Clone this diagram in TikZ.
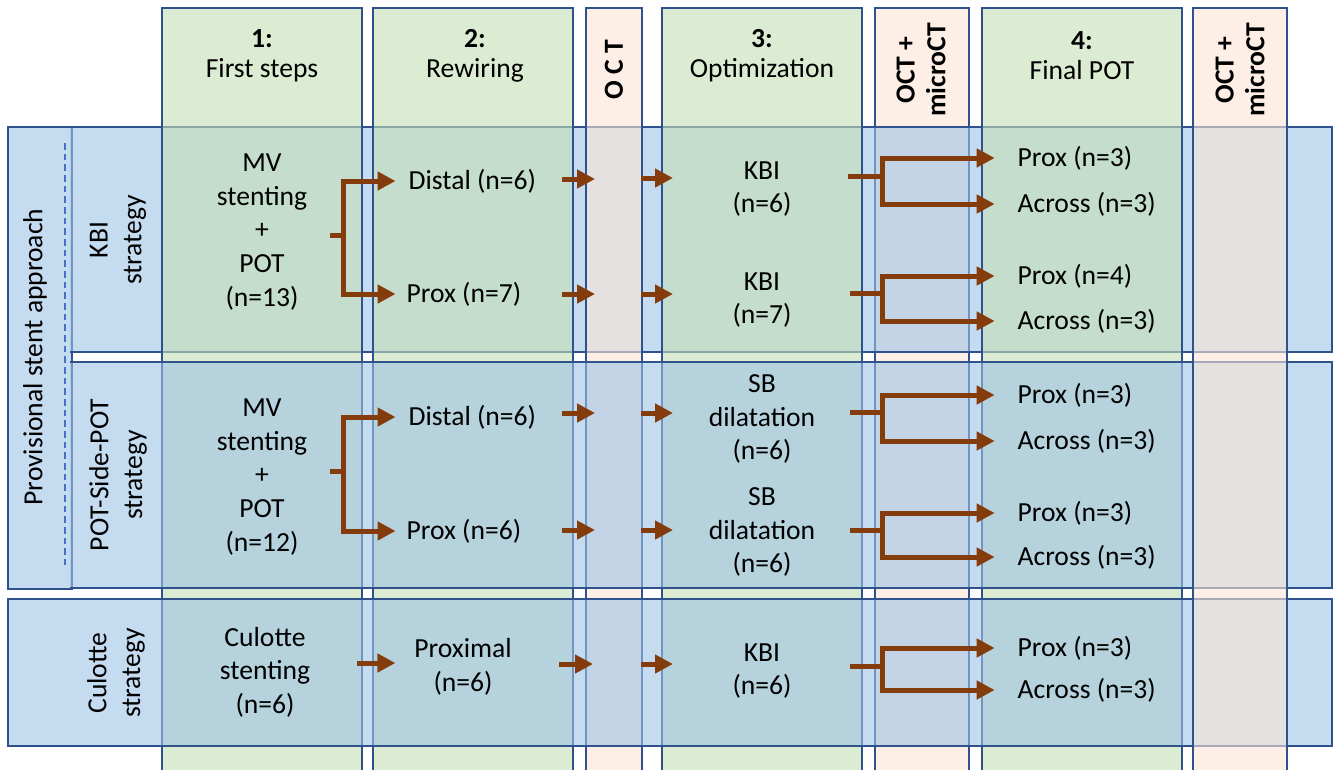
\documentclass[tikz,border=0pt]{standalone}
\usepackage{fontspec}
\setmainfont{Carlito}
\usetikzlibrary{arrows.meta}

\definecolor{rowblue}{HTML}{9DC3E6}
\definecolor{colgreen}{HTML}{C5E0B4}
\definecolor{colpeach}{HTML}{FBE5D6}
\definecolor{boxline}{HTML}{2F528F}
\definecolor{arrowbrown}{HTML}{843C0C}
\definecolor{dashblue}{HTML}{4472C4}

\tikzset{
  rowbox/.style={draw=boxline,line width=1.3pt,fill=rowblue,fill opacity=0.6},
  rowfill/.style={fill=rowblue,fill opacity=0.6},
  rowedge/.style={draw=boxline,line width=1.3pt},
  colbox/.style={draw=boxline,line width=1.3pt,fill=colgreen,fill opacity=0.6},
  octbox/.style={draw=boxline,line width=1.3pt,fill=colpeach,fill opacity=0.6},
  txt/.style={align=center,inner sep=1pt,font=\fontsize{20.7}{25.2}\selectfont},
  head/.style={align=center,inner sep=1pt,font=\fontsize{20.7}{22.5}\selectfont},
  vhead/.style={rotate=90,align=center,inner sep=1pt,font=\fontsize{20.7}{23}\selectfont\bfseries},
  brline/.style={draw=arrowbrown,line width=3.75pt},
  brarrow/.style={brline,-{Triangle[length=13.5pt,width=13.5pt]}},
}

\begin{document}
\begin{tikzpicture}[x=0.75pt,y=-0.75pt]
    \useasboundingbox (0,0) rectangle (1335,769);

    % columns and rows, in the order they overlap
    \draw[rowbox] (8,127) rectangle (72,589);
    \draw[octbox] (875,8) rectangle (969,790);
    \fill[rowfill] (70,127) rectangle (1332,352);
    \draw[rowedge] (70,127) -- (1332,127) -- (1332,352) -- (70,352);

    \draw[colbox] (162,8) rectangle (362,790);
    \draw[colbox] (373,8) rectangle (573,790);
    \draw[octbox] (586,8) rectangle (642,790);
    \draw[colbox] (662,8) rectangle (862,790);
    \draw[colbox] (982,8) rectangle (1182,790);

    \fill[rowfill] (70,362) rectangle (1332,588);
    \draw[rowedge] (70,362) -- (1332,362) -- (1332,588) -- (70,588);
    \draw[rowbox] (8,599) rectangle (1332,746);
    \draw[draw=dashblue,line width=1pt,dash pattern=on 5pt off 3pt] (65,143) -- (65,565);

    \draw[octbox] (1193,8) rectangle (1287,790);

    % headers
    \node[head] (h1) at (262,56) {\textbf{1:}\\First steps};
    \node[head] (h2) at (475,56) {\textbf{2:}\\Rewiring};
    \node[vhead] (hoct) at (614,70) {O C T};
    \node[head] (h3) at (762,56) {\textbf{3:}\\Optimization};
    \node[vhead] (hmct1) at (921,70) {OCT +\\microCT};
    \node[head] (h4) at (1082,56) {\textbf{4:}\\Final POT};
    \node[vhead] (hmct2) at (1240,70) {OCT +\\microCT};

    % row labels
    \node[txt,rotate=90] (prov) at (35,357) {Provisional stent approach};
    \node[txt,rotate=90] (kbis) at (118,240) {KBI\\strategy};
    \node[txt,rotate=90] (pots) at (118,475) {POT-Side-POT\\strategy};
    \node[txt,rotate=90] (culs) at (116,673) {Culotte\\strategy};

    % KBI strategy
    \node[txt] (mv1) at (262,232) {MV\\stenting\\+\\POT\\(n=13)};
    \node[txt,anchor=west] (dist1) at (407,181) {Distal (n=6)};
    \node[txt,anchor=west] (prox1) at (405,294) {Prox (n=7)};
    \node[txt] (kbi1) at (762,189) {KBI\\(n=6)};
    \node[txt] (kbi2) at (762,300) {KBI\\(n=7)};
    \node[txt,anchor=west] (fp1) at (1016,158) {Prox (n=3)};
    \node[txt,anchor=west] (fa1) at (1016,204) {Across (n=3)};
    \node[txt,anchor=west] (fp2) at (1016,276) {Prox (n=4)};
    \node[txt,anchor=west] (fa2) at (1016,321) {Across (n=3)};

    % POT-Side-POT strategy
    \node[txt] (mv2) at (262,477) {MV\\stenting\\+\\POT\\(n=12)};
    \node[txt,anchor=west] (dist2) at (407,417) {Distal (n=6)};
    \node[txt,anchor=west] (prox2) at (405,531) {Prox (n=6)};
    \node[txt] (sb1) at (762,419) {SB\\dilatation\\(n=6)};
    \node[txt] (sb2) at (762,532) {SB\\dilatation\\(n=6)};
    \node[txt,anchor=west] (fp3) at (1016,395) {Prox (n=3)};
    \node[txt,anchor=west] (fa3) at (1016,441) {Across (n=3)};
    \node[txt,anchor=west] (fp4) at (1016,513) {Prox (n=3)};
    \node[txt,anchor=west] (fa4) at (1016,557) {Across (n=3)};

    % Culotte strategy
    \node[txt] (cul) at (265,672) {Culotte\\stenting\\(n=6)};
    \node[txt] (prox3) at (463,667) {Proximal\\(n=6)};
    \node[txt] (kbi3) at (762,671) {KBI\\(n=6)};
    \node[txt,anchor=west] (fp5) at (1016,648) {Prox (n=3)};
    \node[txt,anchor=west] (fa5) at (1016,690) {Across (n=3)};

    % forks after step 1
    \coordinate (s1) at (330,235);
    \coordinate (f1) at (343,235);
    \draw[brline] (s1) -- (f1);
    \draw[brarrow,shorten >=8.6pt] (f1) |- (dist1.west);
    \draw[brarrow,shorten >=7.1pt] (f1) |- (prox1.west);

    \coordinate (s2) at (330,471);
    \coordinate (f2) at (343,471);
    \draw[brline] (s2) -- (f2);
    \draw[brarrow,shorten >=8.6pt] (f2) |- (dist2.west);
    \draw[brarrow,shorten >=7.1pt] (f2) |- (prox2.west);

    \coordinate (s3) at (357,663);
    \draw[brarrow,shorten >=13pt] (s3) -- (s3 -| prox3.west);

    % arrows across the OCT column
    \coordinate (a1) at (562,179);
    \coordinate (b1) at (595,179);
    \coordinate (c1) at (641,178);
    \coordinate (d1) at (673,178);
    \draw[brarrow] (a1) -- (b1);
    \draw[brarrow] (c1) -- (d1);

    \coordinate (a2) at (562,294);
    \coordinate (b2) at (595,294);
    \coordinate (c2) at (641,294);
    \coordinate (d2) at (673,294);
    \draw[brarrow] (a2) -- (b2);
    \draw[brarrow] (c2) -- (d2);

    \coordinate (a3) at (562,413);
    \coordinate (b3) at (595,413);
    \coordinate (c3) at (641,413);
    \coordinate (d3) at (673,413);
    \draw[brarrow] (a3) -- (b3);
    \draw[brarrow] (c3) -- (d3);

    \coordinate (a4) at (562,530);
    \coordinate (b4) at (595,530);
    \coordinate (c4) at (641,530);
    \coordinate (d4) at (673,530);
    \draw[brarrow] (a4) -- (b4);
    \draw[brarrow] (c4) -- (d4);

    \coordinate (a5) at (559,664);
    \coordinate (b5) at (593,664);
    \coordinate (c5) at (641,664);
    \coordinate (d5) at (673,664);
    \draw[brarrow] (a5) -- (b5);
    \draw[brarrow] (c5) -- (d5);

    % forks after step 3
    \coordinate (t1) at (848,176);
    \coordinate (g1) at (882,176);
    \draw[brline] (t1) -- (g1);
    \draw[brarrow,shorten >=16pt] (g1) |- (fp1.west);
    \draw[brarrow,shorten >=16pt] (g1) |- (fa1.west);

    \coordinate (t2) at (850,293);
    \coordinate (g2) at (882,293);
    \draw[brline] (t2) -- (g2);
    \draw[brarrow,shorten >=16pt] (g2) |- (fp2.west);
    \draw[brarrow,shorten >=16pt] (g2) |- (fa2.west);

    \coordinate (t3) at (850,412);
    \coordinate (g3) at (882,412);
    \draw[brline] (t3) -- (g3);
    \draw[brarrow,shorten >=16pt] (g3) |- (fp3.west);
    \draw[brarrow,shorten >=16pt] (g3) |- (fa3.west);

    \coordinate (t4) at (850,530);
    \coordinate (g4) at (882,530);
    \draw[brline] (t4) -- (g4);
    \draw[brarrow,shorten >=16pt] (g4) |- (fp4.west);
    \draw[brarrow,shorten >=16pt] (g4) |- (fa4.west);

    \coordinate (t5) at (850,666);
    \coordinate (g5) at (882,666);
    \draw[brline] (t5) -- (g5);
    \draw[brarrow,shorten >=16pt] (g5) |- (fp5.west);
    \draw[brarrow,shorten >=16pt] (g5) |- (fa5.west);
  \end{tikzpicture}
\end{document}
